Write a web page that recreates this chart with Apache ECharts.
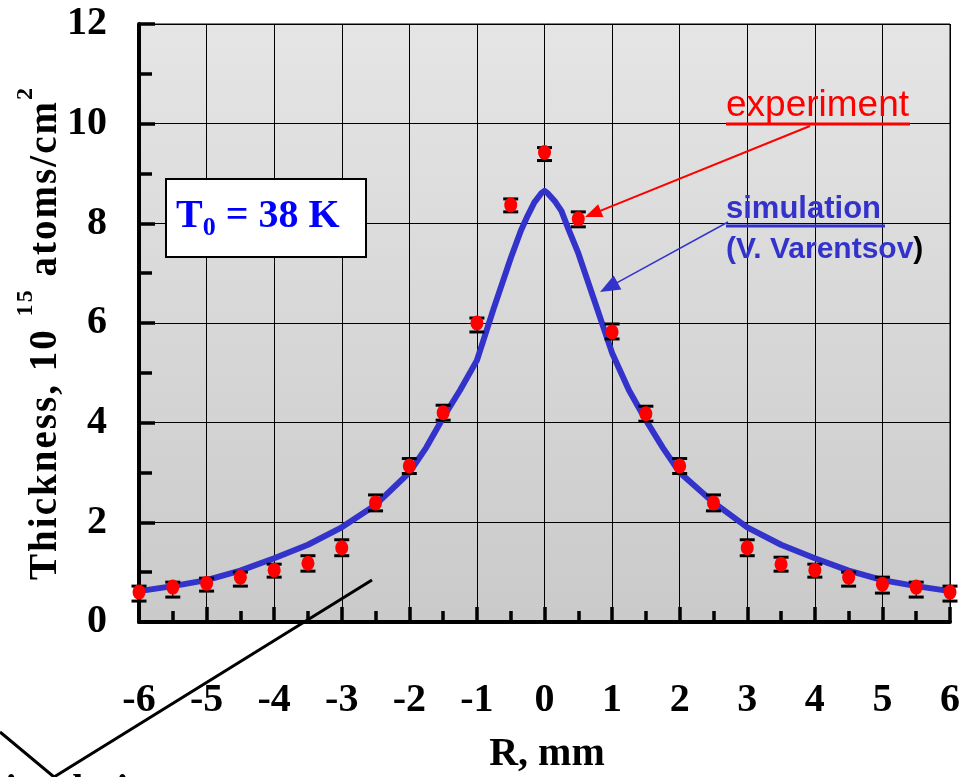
<!DOCTYPE html>
<html>
<head>
<meta charset="utf-8">
<script src="https://cdn.jsdelivr.net/npm/echarts@6/dist/echarts.min.js"></script>
<style>
html,body{margin:0;padding:0;background:#fff;}
#c{width:969px;height:777px;}
</style>
</head>
<body>
<div id="c"></div>
<script>
// ---- data ----
const expX = [-6,-5.5,-5,-4.5,-4,-3.5,-3,-2.5,-2,-1.5,-1,-0.5,0,0.5,1,1.5,2,2.5,3,3.5,4,4.5,5,5.5,6];
const expY = [0.60,0.70,0.78,0.90,1.04,1.18,1.49,2.39,3.13,4.20,6.00,8.37,9.42,8.09,5.82,4.18,3.13,2.39,1.49,1.16,1.04,0.90,0.76,0.70,0.60];
const expLo = [0.42,0.50,0.62,0.72,0.90,1.02,1.33,2.23,2.98,4.05,5.82,8.23,9.26,7.93,5.68,4.03,2.98,2.23,1.33,1.02,0.90,0.72,0.58,0.50,0.42];
const expHi = [0.72,0.80,0.88,1.00,1.16,1.33,1.65,2.55,3.28,4.35,6.10,8.49,9.52,8.23,5.98,4.33,3.28,2.55,1.65,1.30,1.16,1.00,0.90,0.80,0.72];
const simX = [-6,-5.5,-5,-4.5,-4,-3.5,-3,-2.5,-2,-1.75,-1.5,-1.25,-1,-0.75,-0.5,-0.35,-0.25,-0.15,-0.05,0,0.05,0.15,0.25,0.35,0.5,0.75,1,1.25,1.5,1.75,2,2.5,3,3.5,4,4.5,5,5.5,6];
const simY = [0.62,0.72,0.84,1.03,1.28,1.55,1.9,2.35,3.0,3.5,4.1,4.65,5.25,6.3,7.3,7.85,8.15,8.42,8.6,8.65,8.6,8.45,8.25,7.9,7.4,6.4,5.4,4.65,4.05,3.5,3.0,2.4,1.9,1.55,1.28,1.03,0.84,0.72,0.62];
const xTicks = {min:-6, max:6, interval:1};
const yTicks = {min:0, max:12, interval:2};
const xTitle = 'R, mm';
const yTitleParts = [['Thickness, 10 ', false], ['15', true], [' atoms/cm', false], ['2', true]];
const annoTemp = ['T', '0', ' = 38 K'];
const annoExp = 'experiment';
const annoSim = 'simulation';
const annoSimAuthor = '(V. Varentsov';
const cutText = 'simulation';

const expData = expX.map((x,i)=>[x, expY[i]]);
const errData = expX.map((x,i)=>[x, expLo[i], expHi[i]]);
const simData = simX.map((x,i)=>[x, simY[i]]);

const serif = '"Liberation Serif","Times New Roman",serif';
const sans = '"Liberation Sans",Arial,sans-serif';

function arrow(x1,y1,x2,y2,color,lw,hl,hw){
  const dx=x2-x1, dy=y2-y1, L=Math.sqrt(dx*dx+dy*dy);
  const ux=dx/L, uy=dy/L, nx=-uy, ny=ux;
  const bx=x2-ux*hl, by=y2-uy*hl;
  return [
    {type:'line', z:100, shape:{x1:x1,y1:y1,x2:bx+ux*2,y2:by+uy*2}, style:{stroke:color,lineWidth:lw}},
    {type:'polygon', z:100, shape:{points:[[x2,y2],[bx+nx*hw,by+ny*hw],[bx-nx*hw,by-ny*hw]]}, style:{fill:color}}
  ];
}

// letter-spaced rotated y-axis title
function spacedTitle(cx, cy, target, mainSize, supSize, supDy){
  const ctx = document.createElement('canvas').getContext('2d');
  const chars = [];
  yTitleParts.forEach(p => { for (const ch of p[0]) chars.push({ch:ch, sup:p[1]}); });
  let sum = 0;
  chars.forEach(c => {
    ctx.font = 'bold ' + (c.sup?supSize:mainSize) + 'px "Liberation Serif"';
    c.w = ctx.measureText(c.ch).width; sum += c.w;
  });
  const sp = (target - sum) / (chars.length - 1);
  let x = -target/2;
  const children = [];
  chars.forEach(c => {
    if (c.ch !== ' ') children.push({type:'text', x:x, y:c.sup?supDy:0, style:{text:c.ch, align:'left', verticalAlign:'middle',
      fontFamily:serif, fontWeight:'bold', fontSize:c.sup?supSize:mainSize, fill:'#000'}});
    x += c.w + sp;
  });
  return {type:'group', x:cx, y:cy, rotation:Math.PI/2, z:51, children:children};
}

const chart = echarts.init(document.getElementById('c'));
const option = {
  animation:false,
  backgroundColor:'#ffffff',
  grid:{left:139,right:19,top:24,bottom:155,show:true,borderColor:'#000',borderWidth:1,
    backgroundColor:new echarts.graphic.LinearGradient(0,0,0,1,[{offset:0,color:'#e5e5e5'},{offset:1,color:'#cacaca'}])},
  xAxis:{type:'value',min:xTicks.min,max:xTicks.max,interval:xTicks.interval,
    axisLine:{show:true,onZero:false,lineStyle:{color:'#000',width:4}},
    axisTick:{show:true,inside:true,length:15,lineStyle:{color:'#000',width:3.5}},
    minorTick:{show:true,splitNumber:2,length:11,lineStyle:{color:'#000',width:3.5}},
    splitLine:{show:true,lineStyle:{color:'#000',width:1}},
    axisLabel:{margin:59,fontFamily:serif,fontWeight:'bold',fontSize:40,color:'#000'}},
  yAxis:{type:'value',min:yTicks.min,max:yTicks.max,interval:yTicks.interval,
    axisLine:{show:true,onZero:false,lineStyle:{color:'#000',width:4}},
    axisTick:{show:true,inside:true,length:16,lineStyle:{color:'#000',width:3.5}},
    minorTick:{show:true,splitNumber:2,length:13,lineStyle:{color:'#000',width:3.5}},
    splitLine:{show:true,lineStyle:{color:'#000',width:1}},
    axisLabel:{margin:32,fontFamily:serif,fontWeight:'bold',fontSize:40,color:'#000'}},
  series:[
    {type:'line',data:simData,showSymbol:false,smooth:false,z:3,
      lineStyle:{color:'#3333cc',width:6,join:'round'},itemStyle:{color:'#3333cc'}},
    {type:'custom',data:errData,z:4,
      renderItem:function(params,api){
        const x=api.value(0);
        const lo=api.coord([x,api.value(1)]);
        const hi=api.coord([x,api.value(2)]);
        const hw=7.5;
        return {type:'group',children:[
          {type:'line',shape:{x1:lo[0],y1:lo[1],x2:hi[0],y2:hi[1]},style:{stroke:'#000',lineWidth:1.2}},
          {type:'line',shape:{x1:lo[0]-hw,y1:lo[1],x2:lo[0]+hw,y2:lo[1]},style:{stroke:'#000',lineWidth:3}},
          {type:'line',shape:{x1:hi[0]-hw,y1:hi[1],x2:hi[0]+hw,y2:hi[1]},style:{stroke:'#000',lineWidth:3}}
        ]};
      }},
    {type:'scatter',data:expData,z:5,symbol:'circle',symbolSize:[13,15],
      itemStyle:{color:'#ff0000',opacity:1}}
  ],
  graphic:[
    {type:'rect',z:50,shape:{x:166,y:179,width:200,height:78},style:{fill:'#fff',stroke:'#000',lineWidth:2}},
    {type:'text',z:51,x:176,y:217,style:{
      text:'{a|'+annoTemp[0]+'}{s|'+annoTemp[1]+'}{a|'+annoTemp[2]+'}',
      verticalAlign:'middle',align:'left',fill:'#0000ff',
      rich:{a:{fontFamily:serif,fontWeight:'bold',fontSize:40,lineHeight:48,fill:'#0000ff'},
            s:{fontFamily:serif,fontWeight:'bold',fontSize:26,lineHeight:26,verticalAlign:'bottom',fill:'#0000ff'}}}},
    spacedTitle(46, 334, 492, 39, 24, -20),
    {type:'text',z:51,x:547,y:755,style:{text:xTitle,align:'center',verticalAlign:'middle',
      fontFamily:serif,fontWeight:'bold',fontSize:40,fill:'#000'}},
    {type:'text',z:51,x:726,y:106,style:{text:annoExp,align:'left',verticalAlign:'middle',
      fontFamily:sans,fontSize:37,fill:'#ff0000'}},
    {type:'line',z:51,shape:{x1:726,y1:124,x2:910,y2:124},style:{stroke:'#ff0000',lineWidth:3}},
    {type:'text',z:51,x:726,y:209,style:{text:annoSim,align:'left',verticalAlign:'middle',
      fontFamily:sans,fontWeight:'bold',fontSize:31,fill:'#3333cc'}},
    {type:'line',z:51,shape:{x1:726,y1:226,x2:885,y2:226},style:{stroke:'#3333cc',lineWidth:3}},
    {type:'text',z:51,x:726,y:250,style:{text:'{b|'+annoSimAuthor+'}{k|)}',align:'left',verticalAlign:'middle',
      rich:{b:{fontFamily:sans,fontWeight:'bold',fontSize:30,fill:'#3333cc'},
            k:{fontFamily:sans,fontWeight:'bold',fontSize:30,fill:'#000'}}}},
    ...arrow(810,126,585,217,'#ff0000',2,17,7),
    ...arrow(728,222,600,292,'#3333cc',1.5,20,8),
    {type:'polyline',z:100,shape:{points:[[0,732],[54,777],[372,580]]},style:{stroke:'#000',lineWidth:3,fill:null}},
    {type:'text',z:51,x:-10,y:772,style:{text:cutText,align:'left',verticalAlign:'top',
      fontFamily:serif,fontWeight:'bold',fontSize:40,fill:'#000'}}
  ]
};
chart.setOption(option);
</script>
</body>
</html>
